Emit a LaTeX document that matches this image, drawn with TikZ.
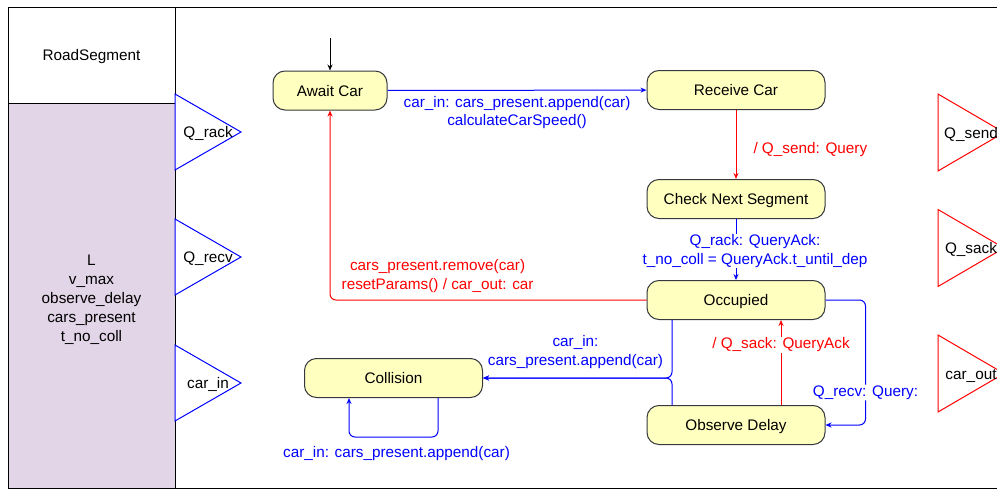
\documentclass[tikz,border=0pt]{standalone}
\usepackage{fontspec}
\setmainfont{Liberation Sans}
\usepackage{tikz}
\usetikzlibrary{positioning, arrows.meta, calc}
\usepackage{xcolor}
\definecolor{statefill}{HTML}{FFFFC0}
\definecolor{stateline}{HTML}{36393D}
\definecolor{attrfill}{HTML}{E1D5E7}

\begin{document}
\begin{tikzpicture}[
    x=1pt, y=-1pt,
    line width=1pt,
    >={Stealth[length=6pt,width=5pt]},
    every node/.style={font=\fontsize{15.3}{18.6}\selectfont},
    oneline/.style={text height=11pt, text depth=0pt},
    state/.style={oneline, draw=stateline, fill=statefill, rounded corners=12pt,
        minimum width=178pt, minimum height=39pt},
    lbl/.style={align=center, inner sep=1pt}
]
    \useasboundingbox (0,0) rectangle (997,490);
    \clip (0,0) rectangle (997,490);

    % Block frame: name on top, attributes below, states to the right
    \draw (8,7) rectangle (1010,488);
    \filldraw[fill=attrfill] (8,103) rectangle (175,488);
    \draw (8,7) rectangle (175,103);
    \node[oneline] (blockname) at (91.5,55) {RoadSegment};
    \node[align=center, font=\fontsize{15.3}{19}\selectfont] (attrs) at (91.5,300)
        {L\\v\_max\\observe\_delay\\cars\_present\\t\_no\_coll};

    % Input ports on the left (blue), output ports on the right (red)
    \foreach \pname/\y/\ptext in {qrack/132/Q\_rack, qrecv/257/Q\_recv, carin/383/car\_in} {
        \draw[blue, fill=white] (175,{\y-38}) -- (241,\y) -- (175,{\y+38}) -- cycle;
        \node[oneline] (\pname) at (208,\y) {\ptext};
    }
    \foreach \pname/\y/\ptext in {qsend/132.5/Q\_send, qsack/248/Q\_sack, carout/373.5/car\_out} {
        \draw[red, fill=white] (938,{\y-38.5}) -- (1004,\y) -- (938,{\y+38.5}) -- cycle;
        \node[oneline] (\pname) at (971,\y) {\ptext};
    }

    % States
    \node[state, minimum width=114pt] (await) at (330,90.5) {Await Car};
    \node[state] (receive) at (736,90) {Receive Car};
    \node[state] (check) at (736,199) {Check Next Segment};
    \node[state] (occupied) at (736,300) {Occupied};
    \node[state] (observe) at (736,425) {Observe Delay};
    \node[state] (collision) at (393.5,378) {Collision};

    \coordinate (init) at (330,38);
    \draw[->] (init) -- (await);

    \draw[blue, ->] (await) -- (receive)
        node[midway, below=4.5pt, lbl] {car\_in: cars\_present.append(car)\\calculateCarSpeed()};
    \draw[red, ->] (receive) -- (check)
        node[midway, right=16pt, yshift=-5pt, lbl] {/ Q\_send: Query};
    \draw[blue, ->] (check) -- (occupied)
        node[midway, xshift=19pt, yshift=-1.5pt, lbl, fill=white] {Q\_rack: QueryAck:\\t\_no\_coll = QueryAck.t\_until\_dep};
    \draw[red, ->, rounded corners=6pt] (occupied.west) -| (await.south)
        node[pos=0.33, above=6pt, lbl] {cars\_present.remove(car)\\resetParams() / car\_out: car};
    \draw[blue, ->, rounded corners=6pt] ([xshift=-64pt]occupied.south) |- (collision.east)
        node[pos=0.75, above=8pt, xshift=-2pt, lbl] {car\_in:\\cars\_present.append(car)};
    \draw[blue, ->, rounded corners=6pt] ([xshift=-64pt]observe.north) |- (collision.east);
    \draw[blue, ->, rounded corners=6pt] ([xshift=44.5pt]collision.south) -- ++(0,39)
        -| ([xshift=-44.5pt]collision.south)
        node[pos=0.25, below=8pt, xshift=3pt, lbl] {car\_in: cars\_present.append(car)};
    \draw[red, ->] ([xshift=45pt]observe.north) -- ([xshift=45pt]occupied.south)
        node[pos=0.71, lbl, fill=white] {/ Q\_sack: QueryAck};
    \draw[blue, ->, rounded corners=6pt] (occupied.east) -- ++(40,0) |- (observe.east)
        node[pos=0.37, lbl, fill=white] {Q\_recv: Query:};
\end{tikzpicture}
\end{document}
